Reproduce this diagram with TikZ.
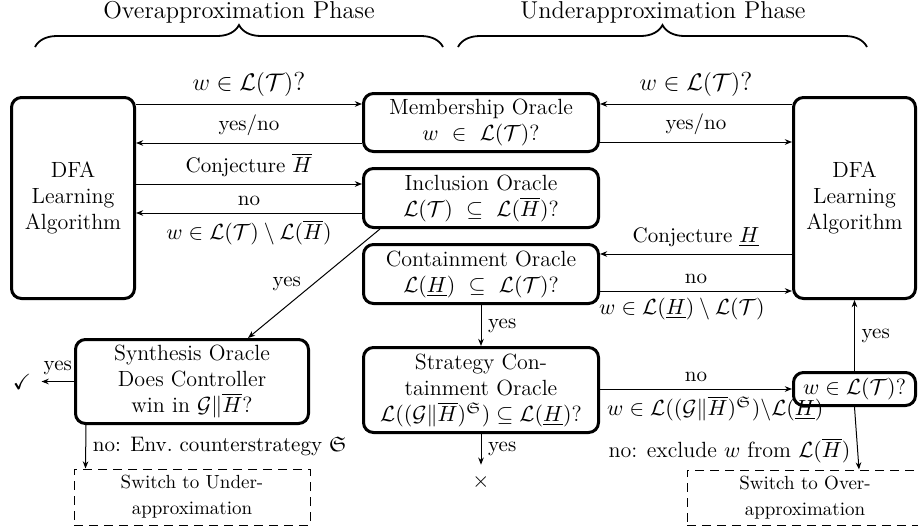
\documentclass[tikz,border=0pt]{standalone}
\usepackage{amsmath,amssymb}
\usetikzlibrary{arrows.meta,decorations.pathreplacing,calc}
\begin{document}
\begin{tikzpicture}[x=0.5pt,y=-0.5pt,
  box/.style={draw, line width=1.5pt, rounded corners=5pt, align=center, inner sep=0pt, font=\fontsize{11}{13}\selectfont},
  dbox/.style={draw, line width=0.5pt, dash pattern=on 4.5pt off 3pt, align=center, inner sep=0pt, font=\fontsize{9.5}{13}\selectfont},
  arr/.style={-{Stealth[length=3.6pt,width=2.8pt]}, line width=0.5pt},
  lbl/.style={font=\fontsize{10.5}{12.5}\selectfont},
  qlbl/.style={font=\fontsize{13}{15}\selectfont},
  mlbl/.style={font=\fontsize{11}{13}\selectfont},
  ttl/.style={font=\fontsize{12.2}{14}\selectfont},
  brc/.style={decorate, decoration={brace, amplitude=11pt}, line width=0.9pt},
]
\useasboundingbox (0,0) rectangle (918,531);
\clip (0,0) rectangle (918,531);

% titles and braces
\node[ttl, anchor=base] (t1) at (239,18) {Overapproximation Phase};
\node[ttl, anchor=base] (t2) at (663,18) {Underapproximation Phase};
\coordinate (b1s) at (35,47);
\coordinate (b1e) at (443,47);
\coordinate (b2s) at (458,47);
\coordinate (b2e) at (867,47);
\draw[brc] (b1s) -- (b1e);
\draw[brc] (b2s) -- (b2e);

% nodes
\node[box, minimum width=61.5pt, minimum height=100.5pt] (ldfa) at (73,198) {DFA\\Learning\\Algorithm};
\node[box, minimum width=61pt, minimum height=100.5pt] (rdfa) at (854.5,198) {DFA\\Learning\\Algorithm};
\node[box, minimum width=117.5pt, minimum height=29pt] (mem) at (481,122.5) {Membership Oracle\\$w \ \in \ \mathcal{L}(\mathcal{T})$?};
\node[box, minimum width=117.5pt, minimum height=29.5pt] (inc) at (481,198) {Inclusion Oracle\\$\mathcal{L}(\mathcal{T}) \ \subseteq \ \mathcal{L}(\overline{H})$?};
\node[box, minimum width=117.5pt, minimum height=29.5pt] (con) at (481,274) {Containment Oracle\\$\mathcal{L}(\underline{H}) \ \subseteq \ \mathcal{L}(\mathcal{T})$?};
\node[box, minimum width=117.5pt, minimum height=42.5pt] (strat) at (481,390) {Strategy Con-\\tainment Oracle\\$\mathcal{L}((\mathcal{G}\|\overline{H})^{\mathfrak{S}}) \subseteq \mathcal{L}(\underline{H})$?};
\node[box, minimum width=116.5pt, minimum height=42pt] (synth) at (192,381.5) {Synthesis Oracle\\Does Controller\\win in $\mathcal{G}\|\overline{H}$?};
\node[box, minimum width=61pt, minimum height=16.5pt] (wbox) at (854.5,389) {$w \in \mathcal{L}(\mathcal{T})$?};
\node[dbox, minimum width=118pt, minimum height=28pt] (lsw) at (192,497) {Switch to Under-\\approximation};
\node[dbox, minimum width=118pt, minimum height=27.5pt] (rsw) at (805,497.5) {Switch to Over-\\approximation};
\node[mlbl, inner sep=5pt] (chk) at (22,382) {$\checkmark$};
\node[mlbl, inner sep=4.8pt] (xx) at (481,482) {$\times$};

% left side arrows
\coordinate (y1) at ($(mem.north west)+(0,12)$);
\draw[arr] (y1 -| ldfa.east) -- (y1) node[midway, above, qlbl] {$w \in \mathcal{L}(\mathcal{T})$?};
\coordinate (y2) at ($(mem.south west)+(0,-10)$);
\draw[arr] (y2) -- (y2 -| ldfa.east) node[midway, above, lbl] {yes/no};
\coordinate (y3) at ($(inc.north west)+(0,17)$);
\draw[arr] (y3 -| ldfa.east) -- (y3) node[midway, above, lbl] {Conjecture $\overline{H}$};
\coordinate (y4) at ($(inc.south west)+(0,-16)$);
\draw[arr] (y4) -- (y4 -| ldfa.east) node[midway, above, lbl] {no} node[midway, below, mlbl] {$w \in \mathcal{L}(\mathcal{T}) \setminus \mathcal{L}(\overline{H})$};

% right side arrows
\coordinate (y5) at ($(mem.north east)+(0,12)$);
\draw[arr] (y5 -| rdfa.west) -- (y5) node[midway, above, qlbl] {$w \in \mathcal{L}(\mathcal{T})$?};
\coordinate (y6) at ($(mem.south east)+(0,-11)$);
\draw[arr] (y6) -- (y6 -| rdfa.west) node[midway, above, lbl] {yes/no};
\coordinate (y7) at ($(con.north east)+(0,11)$);
\draw[arr] (y7 -| rdfa.west) -- (y7) node[midway, above, lbl] {Conjecture $\underline{H}$};
\coordinate (y8) at ($(con.south east)+(0,-14)$);
\draw[arr] (y8) -- (y8 -| rdfa.west) node[midway, above, lbl] {no} node[pos=0, below right, xshift=-4pt, mlbl] {$w \in \mathcal{L}(\underline{H}) \setminus \mathcal{L}(\mathcal{T})$};

% vertical / other arrows
\draw[arr] (con.south) -- (strat.north) node[midway, right, lbl] {yes};
\draw[arr] (strat.south) -- (xx.north) node[midway, right, lbl] {yes};
\draw[arr] (strat.east |- wbox.west) -- (wbox.west) node[midway, above, lbl] {no} node[pos=0, below right, mlbl] {$w \in \mathcal{L}((\mathcal{G}\|\overline{H})^{\mathfrak{S}})\backslash\mathcal{L}(\underline{H})$};
\draw[arr] (wbox.north) -- (wbox.north |- rdfa.south) node[midway, right, lbl] {yes};
\draw[arr] (wbox.south) -- ([xshift=27pt]rsw.north) node[pos=0.7, left, mlbl] {no: exclude $w$ from $\mathcal{L}(\overline{H})$};
\draw[arr] ([xshift=9pt]inc.south west) -- ([xshift=28pt]synth.north) node[midway, left, xshift=-3pt, lbl] {yes};
\draw[arr] (synth.west) -- (synth.west -| chk.east) node[midway, above, lbl] {yes};
\draw[arr] ([xshift=6pt]synth.south west) -- ([xshift=6pt]lsw.north west) node[midway, right, lbl] {no: Env.\ counterstrategy $\mathfrak{S}$};
\end{tikzpicture}
\end{document}
